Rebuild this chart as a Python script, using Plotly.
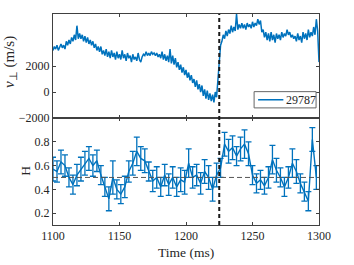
import plotly.graph_objects as go
from plotly.subplots import make_subplots

# ---- top panel: perpendicular velocity (m/s), sampled every 1 ms from 1100 ms ----
v_perp = [3200, 3500, 3300, 3600, 3200, 3500, 3700, 3400, 3600, 3300,
          3900, 3600, 4000, 3700, 4200, 3900, 4400, 4000, 5100, 4100,
          4500, 4100, 4400, 3900, 4300, 3800, 4200, 3700, 4000, 3600,
          3900, 3400, 3700, 3200, 3500, 3100, 3500, 2900, 3200, 2800,
          3300, 2700, 3100, 2600, 3200, 2700, 3000, 2500, 3100, 2600,
          2900, 2500, 3200, 2600, 2900, 2400, 3000, 2600, 2800, 2300,
          2900, 2500, 2700, 2400, 3000, 2500, 2300, 2700, 2900, 2800,
          3100, 2800, 3000, 2800, 3100, 2900, 3000, 2800, 3000, 2700,
          2900, 2600, 3100, 2500, 2900, 2400, 2800, 2300, 3300, 2200,
          2800, 2100, 2600, 1900, 2300, 1700, 2100, 1500, 1900, 1300,
          1700, 1100, 1500, 900, 1300, 700, 1000, 400, 900, 200,
          600, 0, 500, -300, 200, -500, 100, -600, -100, -700,
          -200, -800, 0, -400, 800, 2000, 3600, 3900, 4400, 4100,
          4700, 4300, 4800, 4500, 5100, 4600, 5000, 4700, 6000, 4800,
          5200, 4900, 5300, 4900, 5200, 4800, 5300, 5000, 5200, 4900,
          5400, 5000, 5300, 5100, 5600, 5200, 5500, 4600, 4800, 4200,
          4600, 4000, 4500, 3900, 4600, 4000, 4400, 3800, 4500, 4100,
          4400, 4000, 4600, 4200, 4500, 4300, 4800, 4400, 4600, 4200,
          4400, 4100, 4300, 3900, 4500, 4000, 4300, 3800, 4600, 4100,
          4500, 4000, 4800, 4200, 4600, 4300, 5000, 4400, 5600, 4700,
          2300]
v_time = [1100 + i for i in range(len(v_perp))]

# ---- bottom panel: Hurst exponent H with error bars, every 3 ms ----
h_val = [0.57, 0.55, 0.63, 0.60, 0.50, 0.44, 0.52, 0.57, 0.62, 0.66,
         0.60, 0.64, 0.52, 0.42, 0.32, 0.50, 0.40, 0.36, 0.42, 0.55,
         0.62, 0.72, 0.66, 0.64, 0.55, 0.47, 0.50, 0.42, 0.52, 0.44,
         0.50, 0.42, 0.48, 0.46, 0.62, 0.50, 0.52, 0.45, 0.55, 0.50,
         0.40, 0.52, 0.58, 0.78, 0.72, 0.75, 0.68, 0.74, 0.78, 0.70,
         0.52, 0.45, 0.48, 0.43, 0.50, 0.65, 0.56, 0.50, 0.42, 0.50,
         0.62, 0.55, 0.45, 0.38, 0.30, 0.82, 0.50]
h_err = [0.10, 0.09, 0.10, 0.09, 0.08, 0.08, 0.09, 0.10, 0.10, 0.10,
         0.09, 0.09, 0.08, 0.08, 0.10, 0.14, 0.08, 0.08, 0.09, 0.09,
         0.10, 0.12, 0.10, 0.10, 0.08, 0.09, 0.09, 0.08, 0.09, 0.09,
         0.09, 0.08, 0.10, 0.10, 0.12, 0.09, 0.09, 0.09, 0.10, 0.10,
         0.10, 0.10, 0.08, 0.10, 0.10, 0.10, 0.08, 0.10, 0.12, 0.10,
         0.08, 0.08, 0.08, 0.07, 0.09, 0.12, 0.10, 0.08, 0.08, 0.09,
         0.12, 0.10, 0.08, 0.08, 0.08, 0.10, 0.10]
h_time = [1100 + 3 * i for i in range(len(h_val))]

shot_label = "29787"
event_time = 1225
x_ticks = [1100, 1150, 1200, 1250, 1300]

blue = "#0072BD"
axis_col = "#404040"
text_col = "#262626"
font_family = "Liberation Serif, Times New Roman, serif"

fig = make_subplots(rows=2, cols=1, shared_xaxes=True, vertical_spacing=0)

fig.add_trace(go.Scatter(x=v_time, y=v_perp, mode="lines", name=shot_label,
                         showlegend=False, line=dict(color=blue, width=1.5)),
              row=1, col=1)

fig.add_trace(go.Scatter(x=h_time, y=h_val, mode="lines", showlegend=False,
                         line=dict(color=blue, width=1.4),
                         error_y=dict(type="data", array=h_err, visible=True,
                                      color=blue, thickness=1.3, width=3)),
              row=2, col=1)

common_axis = dict(showline=True, linecolor=axis_col, linewidth=1, mirror="ticks",
                   ticks="inside", ticklen=3, tickcolor=axis_col, showgrid=False,
                   zeroline=False, automargin=False,
                   tickfont=dict(family=font_family, size=12, color=text_col))

fig.update_xaxes(range=[1100, 1300], tickvals=x_ticks, **common_axis)
fig.update_xaxes(showticklabels=False, row=1, col=1)
fig.update_yaxes(range=[-2000, 6000], tickvals=[-2000, 0, 2000], row=1, col=1, **common_axis)
fig.update_yaxes(range=[0.1, 1.0], tickvals=[0.2, 0.4, 0.6, 0.8], row=2, col=1, **common_axis)

fig.layout.yaxis.domain = [0.507, 1.0]
fig.layout.yaxis2.domain = [0.0, 0.507]

# axis titles
fig.add_annotation(text="Time (ms)", xref="paper", yref="paper", x=0.5, y=-0.128,
                   xanchor="center", yanchor="middle", showarrow=False,
                   font=dict(family=font_family, size=13.5, color=text_col))
fig.add_annotation(text="<i>v</i><sub>⊥</sub> (m/s)", xref="paper", yref="paper",
                   x=-0.16, y=0.775, xanchor="center", yanchor="middle",
                   textangle=-90, showarrow=False,
                   font=dict(family=font_family, size=15, color=text_col))
fig.add_annotation(text="H", xref="paper", yref="paper", x=-0.105, y=0.258,
                   xanchor="center", yanchor="middle", textangle=-90,
                   showarrow=False,
                   font=dict(family=font_family, size=13.5, color=text_col))

# vertical dashed event line across both panels
fig.add_shape(type="line", xref="x", yref="paper", x0=event_time, x1=event_time,
              y0=0, y1=1, line=dict(color="#1a1a1a", width=2, dash="4px,3px"))
# horizontal reference line H = 0.5
fig.add_shape(type="line", xref="x2 domain", yref="y2", x0=0, x1=1, y0=0.5, y1=0.5,
              line=dict(color="#555555", width=1, dash="5px,3px"))

# legend box (drawn in the top panel, lower right)
fig.add_shape(type="rect", xref="paper", yref="paper", x0=0.756, x1=0.989,
              y0=0.555, y1=0.632, line=dict(color="#666666", width=1),
              fillcolor="white", layer="above")
fig.add_shape(type="line", xref="paper", yref="paper", x0=0.771, x1=0.866,
              y0=0.5935, y1=0.5935, line=dict(color=blue, width=1.5), layer="above")
fig.add_annotation(text=shot_label, xref="paper", yref="paper", x=0.868, y=0.5935,
                   xanchor="left", yanchor="middle", showarrow=False,
                   font=dict(family=font_family, size=12, color=text_col))

fig.update_layout(
    width=354, height=265,
    margin=dict(l=53, r=35, t=14, b=40, autoexpand=False),
    paper_bgcolor="white", plot_bgcolor="white",
    font=dict(family=font_family, size=12, color=text_col),
    showlegend=False,
)

fig.write_html("out.html", config={"displayModeBar": False},
               post_script="document.body.style.margin='0px';document.body.style.overflow='hidden';")
